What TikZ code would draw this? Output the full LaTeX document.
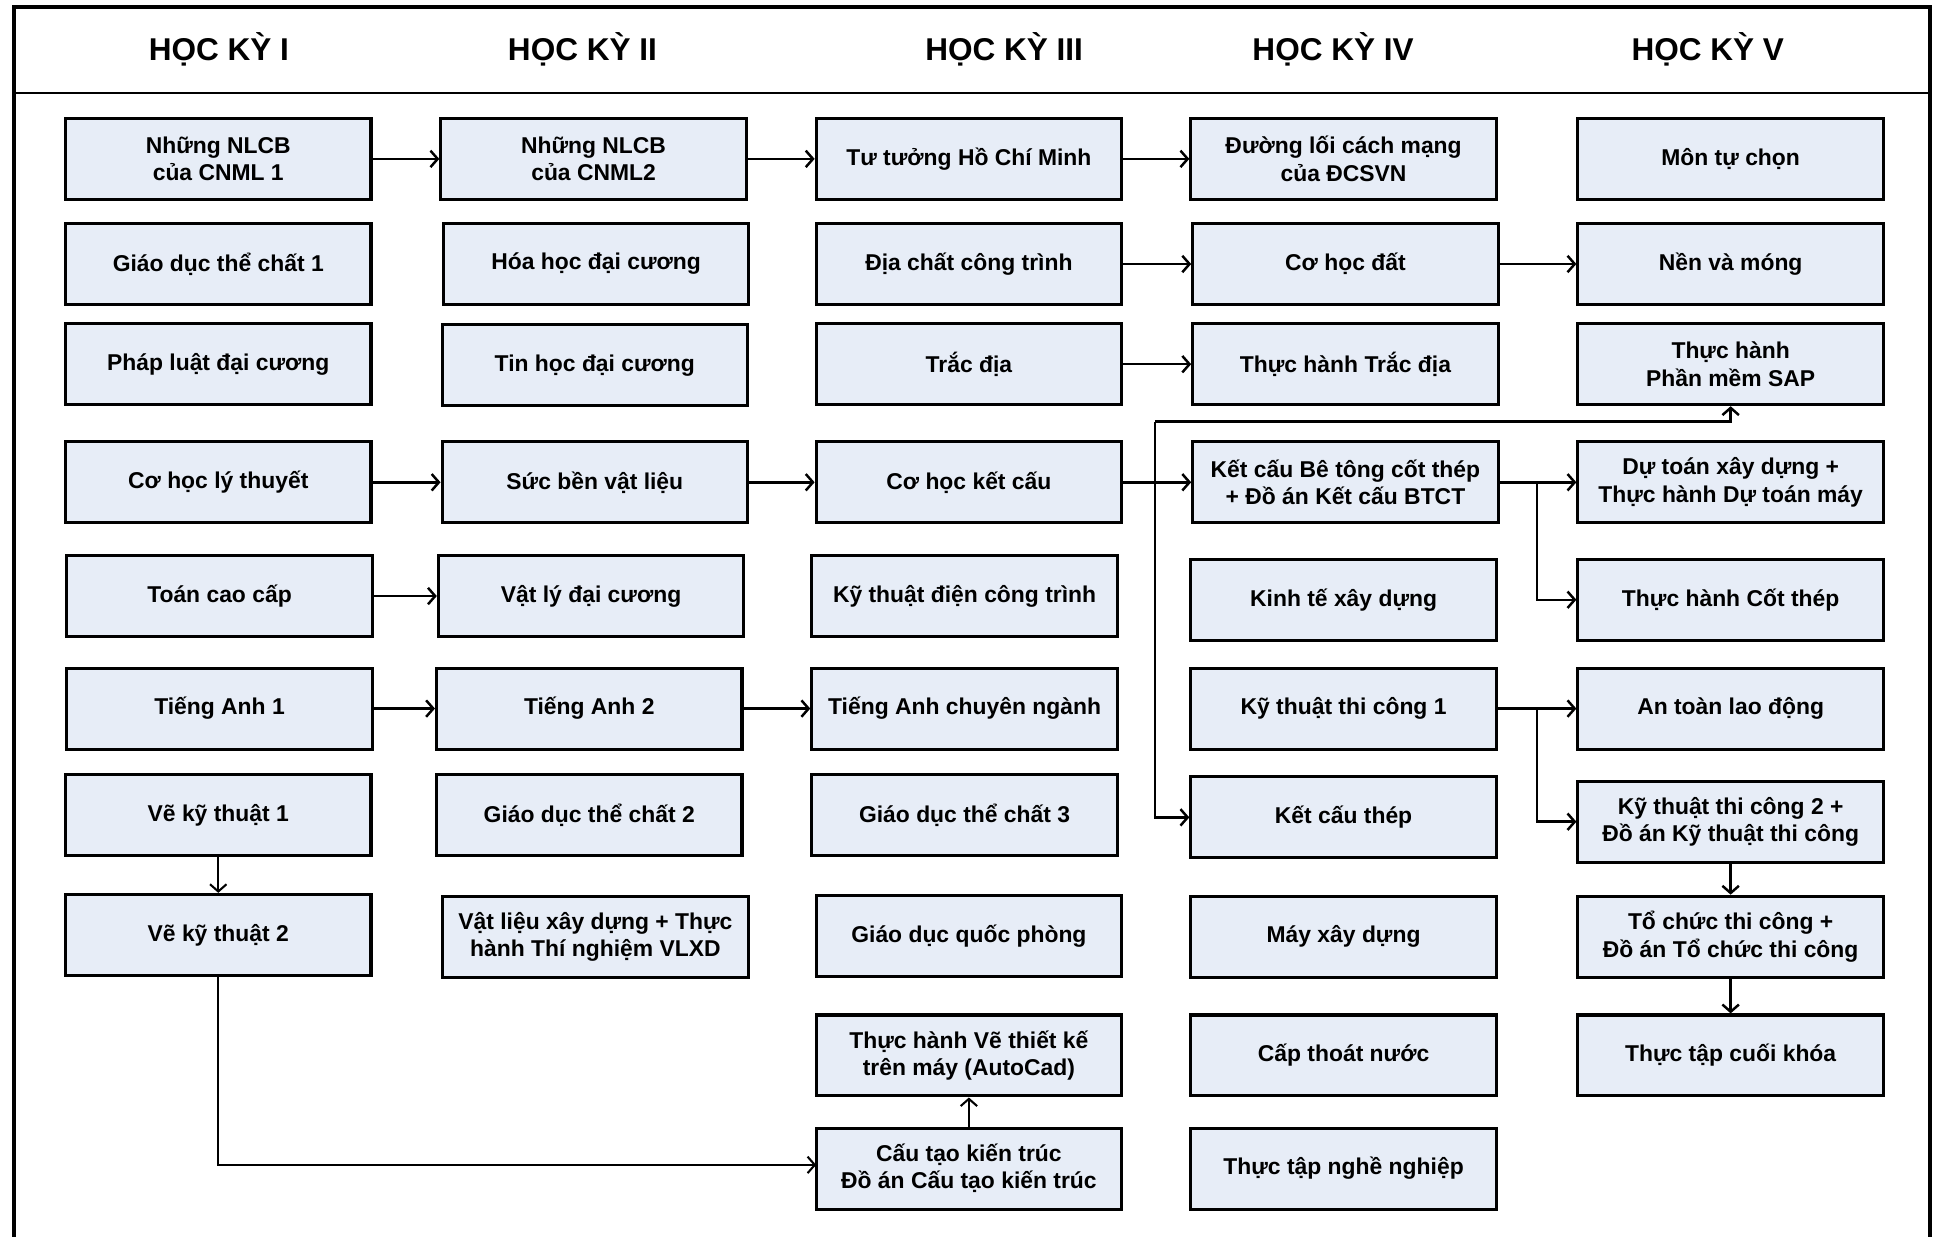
\documentclass[tikz,border=0pt]{standalone}
\usepackage{fontspec}
\setmainfont{Liberation Sans}
\usetikzlibrary{arrows.meta}
\definecolor{boxfill}{RGB}{231,237,247}
\begin{document}
\begin{tikzpicture}[x=0.6pt,y=-0.6pt,
  cbox/.style={draw=black, line width=1.5pt, fill=boxfill, minimum width=148.2pt, minimum height=39.3pt,
    inner sep=0pt, align=center, font=\fontsize{11.1pt}{13.2pt}\selectfont\bfseries},
  hdr/.style={font=\fontsize{15.3pt}{18pt}\selectfont\bfseries, inner sep=0pt},
  conn/.style={line width=1.2pt, -{Straight Barb[length=3.5pt,width=8pt]}},
  thinconn/.style={line width=1pt, -{Straight Barb[length=3.5pt,width=8pt]}},
  seg/.style={line width=1.2pt}]
\useasboundingbox (0,0) rectangle (1568,1000);
% frame
\draw[line width=1.9pt] (11,1000) -- (11,6) -- (1561,6) -- (1561,1000);
\draw[line width=1.2pt] (11,75) -- (1561,75);
% headers
\node[hdr] (h1) at (177,40) {HỌC KỲ I};
\node[hdr] (h2) at (471,40) {HỌC KỲ II};
\node[hdr] (h3) at (812,40) {HỌC KỲ III};
\node[hdr] (h4) at (1078,40) {HỌC KỲ IV};
\node[hdr] (h5) at (1381,40) {HỌC KỲ V};
% column 1
\node[cbox] (c11) at (176.5,128.5) {Những NLCB\\của CNML 1};
\node[cbox] (c12) at (176.5,213.5) {Giáo dục thể chất 1};
\node[cbox] (c13) at (176.5,294.5) {Pháp luật đại cương};
\node[cbox] (c14) at (176.5,390) {Cơ học lý thuyết};
\node[cbox] (c15) at (177.5,482) {Toán cao cấp};
\node[cbox] (c16) at (177.5,573) {Tiếng Anh 1};
\node[cbox] (c17) at (176.5,659) {Vẽ kỹ thuật 1};
\node[cbox] (c18) at (176.5,756) {Vẽ kỹ thuật 2};
% column 2
\node[cbox] (c21) at (480,128.5) {Những NLCB\\của CNML2};
\node[cbox] (c22) at (482,213.5) {Hóa học đại cương};
\node[cbox] (c23) at (481,295.5) {Tin học đại cương};
\node[cbox] (c24) at (481,390) {Sức bền vật liệu};
\node[cbox] (c25) at (478,482) {Vật lý đại cương};
\node[cbox] (c26) at (476.5,573) {Tiếng Anh 2};
\node[cbox] (c27) at (476.5,659) {Giáo dục thể chất 2};
\node[cbox] (c28) at (481.5,757.5) {Vật liệu xây dựng + Thực\\hành Thí nghiệm VLXD};
% column 3
\node[cbox] (c31) at (783.5,128.5) {Tư tưởng Hồ Chí Minh};
\node[cbox] (c32) at (783.5,213.5) {Địa chất công trình};
\node[cbox] (c33) at (783.5,294.5) {Trắc địa};
\node[cbox] (c34) at (783.5,390) {Cơ học kết cấu};
\node[cbox] (c35) at (780,482) {Kỹ thuật điện công trình};
\node[cbox] (c36) at (780,573) {Tiếng Anh chuyên ngành};
\node[cbox] (c37) at (780,659) {Giáo dục thể chất 3};
\node[cbox] (c38) at (783.5,757) {Giáo dục quốc phòng};
\node[cbox] (c39) at (783.5,853.5) {Thực hành Vẽ thiết kế\\trên máy (AutoCad)};
\node[cbox] (c310) at (783.5,945) {Cấu tạo kiến trúc\\Đồ án Cấu tạo kiến trúc};
% column 4
\node[cbox] (c41) at (1086.5,128.5) {Đường lối cách mạng\\của ĐCSVN};
\node[cbox] (c42) at (1088,213.5) {Cơ học đất};
\node[cbox] (c43) at (1088,294.5) {Thực hành Trắc địa};
\node[cbox] (c44) at (1088,390) {Kết cấu Bê tông cốt thép\\+ Đồ án Kết cấu BTCT};
\node[cbox] (c45) at (1086.5,485) {Kinh tế xây dựng};
\node[cbox] (c46) at (1086.5,573) {Kỹ thuật thi công 1};
\node[cbox] (c47) at (1086.5,661) {Kết cấu thép};
\node[cbox] (c48) at (1086.5,757.5) {Máy xây dựng};
\node[cbox] (c49) at (1086.5,853.5) {Cấp thoát nước};
\node[cbox] (c410) at (1086.5,945) {Thực tập nghề nghiệp};
% column 5
\node[cbox] (c51) at (1399.5,128.5) {Môn tự chọn};
\node[cbox] (c52) at (1399.5,213.5) {Nền và móng};
\node[cbox] (c53) at (1399.5,294.5) {Thực hành\\Phần mềm SAP};
\node[cbox] (c54) at (1399.5,390) {Dự toán xây dựng +\\Thực hành Dự toán máy};
\node[cbox] (c55) at (1399.5,485) {Thực hành Cốt thép};
\node[cbox] (c56) at (1399.5,573) {An toàn lao động};
\node[cbox] (c57) at (1399.5,664.5) {Kỹ thuật thi công 2 +\\Đồ án Kỹ thuật thi công};
\node[cbox] (c58) at (1399.5,757.5) {Tổ chức thi công +\\Đồ án Tổ chức thi công};
\node[cbox] (c59) at (1399.5,853.5) {Thực tập cuối khóa};
% junctions
\coordinate (j1) at (934,390);
\coordinate (j1t) at (934,341);
\coordinate (j2) at (1243,390);
\coordinate (j3) at (1243,573);
\coordinate (k1) at (660,942);
% connectors
\draw[conn] (c11.east) -- (c21.west);
\draw[conn] (c21.east) -- (c31.west);
\draw[conn] (c31.east) -- (c41.west);
\draw[conn] (c32.east) -- (c42.west);
\draw[conn] (c42.east) -- (c52.west);
\draw[conn] (c33.east) -- (c43.west);
\draw[conn] (c14.east) -- (c24.west);
\draw[conn] (c24.east) -- (c34.west);
\draw[conn] (c34.east) -- (c44.west);
\draw[conn] (c15.east) -- (c25.west);
\draw[conn] (c16.east) -- (c26.west);
\draw[conn] (c26.east) -- (c36.west);
\draw[thinconn] (c17.south) -- (c18.north);
\draw[thinconn] (c18.south) |- (k1);
\draw[thinconn] (c310.north) -- (c39.south);
\draw[seg] (j1) -- (j1t);
\draw[conn] (j1t) -| (c53.south);
\draw[conn] (j1) |- (c47.west);
\draw[conn] (c44.east) -- (c54.west);
\draw[conn] (j2) |- (c55.west);
\draw[conn] (c46.east) -- (c56.west);
\draw[conn] (j3) |- (c57.west);
\draw[conn] (c57.south) -- (c58.north);
\draw[conn] (c58.south) -- (c59.north);
\end{tikzpicture}
\end{document}
